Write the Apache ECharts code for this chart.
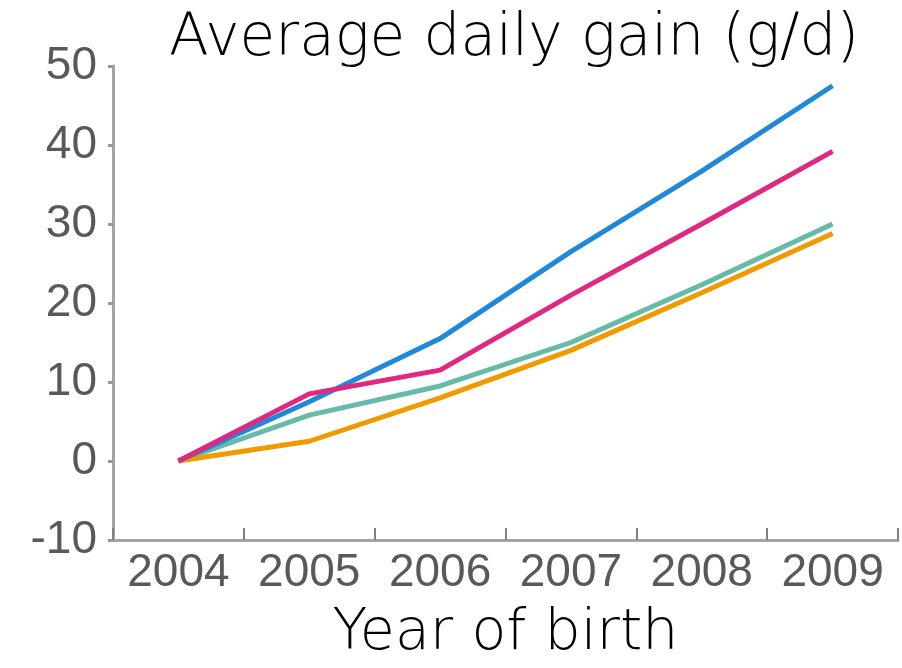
<!DOCTYPE html>
<html>
<head>
<meta charset="utf-8">
<style>
  html, body { margin: 0; padding: 0; background: #fff; }
  #gain_chart { width: 902px; height: 668px; }
</style>
<script src="https://cdn.jsdelivr.net/npm/echarts@6/dist/echarts.min.js"></script>
</head>
<body>
<div id="gain_chart"></div>
<script>
// years of birth (x axis categories)
var years = ['2004', '2005', '2006', '2007', '2008', '2009'];

// average daily gain (g/d)
var blueGain = [0, 7.5, 15.5, 26.5, 36.7, 47.5];
var pinkGain = [0, 8.5, 11.5, 21.0, 30.0, 39.2];
var tealGain = [0, 5.8, 9.5, 15.0, 22.3, 30.0];
var orangeGain = [0, 2.5, 8.0, 14.0, 21.3, 28.8];

var axisGray = '#a3a3a3';
var lightFont = "'DejaVu Sans ExtraLight', 'DejaVu Sans'";

function lineSeries(name, data, color) {
    return {
        name: name,
        type: 'line',
        data: data,
        symbol: 'none',
        lineStyle: {
            color: color,
            width: 5
        }
    };
}

init();

function init() {
    let gain_option = {
        animation: false,
        title: {
            text: 'Average daily gain (g/d)',
            left: 164,
            top: 6,
            textStyle: {
                fontFamily: lightFont,
                fontWeight: 200,
                fontSize: 58,
                color: '#000'
            }
        },
        grid: {
            left: 113,
            right: 4,
            top: 66,
            bottom: 125,
            containLabel: false
        },
        xAxis: {
            type: 'category',
            data: years,
            boundaryGap: true,
            name: 'Year of birth',
            nameLocation: 'middle',
            nameGap: 66,
            nameTextStyle: {
                fontFamily: lightFont,
                fontWeight: 200,
                fontSize: 57,
                color: '#000'
            },
            axisLine: {
                onZero: false,
                lineStyle: {color: axisGray, width: 3}
            },
            axisTick: {
                show: true,
                inside: true,
                interval: 0,
                length: 12,
                lineStyle: {color: '#808080', width: 2}
            },
            axisLabel: {
                interval: 0,
                hideOverlap: false,
                margin: 10,
                fontFamily: 'Liberation Sans',
                fontSize: 46,
                color: '#595959'
            },
            splitLine: {show: false}
        },
        yAxis: {
            type: 'value',
            min: -10,
            max: 50,
            interval: 10,
            axisLine: {
                show: true,
                lineStyle: {color: axisGray, width: 3}
            },
            axisTick: {
                show: true,
                length: 5,
                lineStyle: {color: '#999', width: 3}
            },
            axisLabel: {
                margin: 16,
                fontFamily: 'Liberation Sans',
                fontSize: 46,
                color: '#595959'
            },
            splitLine: {show: false}
        },
        series: [
            lineSeries('teal', tealGain, '#66bba8'),
            lineSeries('orange', orangeGain, '#f09a00'),
            lineSeries('blue', blueGain, '#1f88d9'),
            lineSeries('pink', pinkGain, '#e0287f')
        ]
    };

    let gain_chart = echarts.init(document.getElementById('gain_chart'));
    gain_chart.setOption(gain_option);
}
</script>
</body>
</html>
